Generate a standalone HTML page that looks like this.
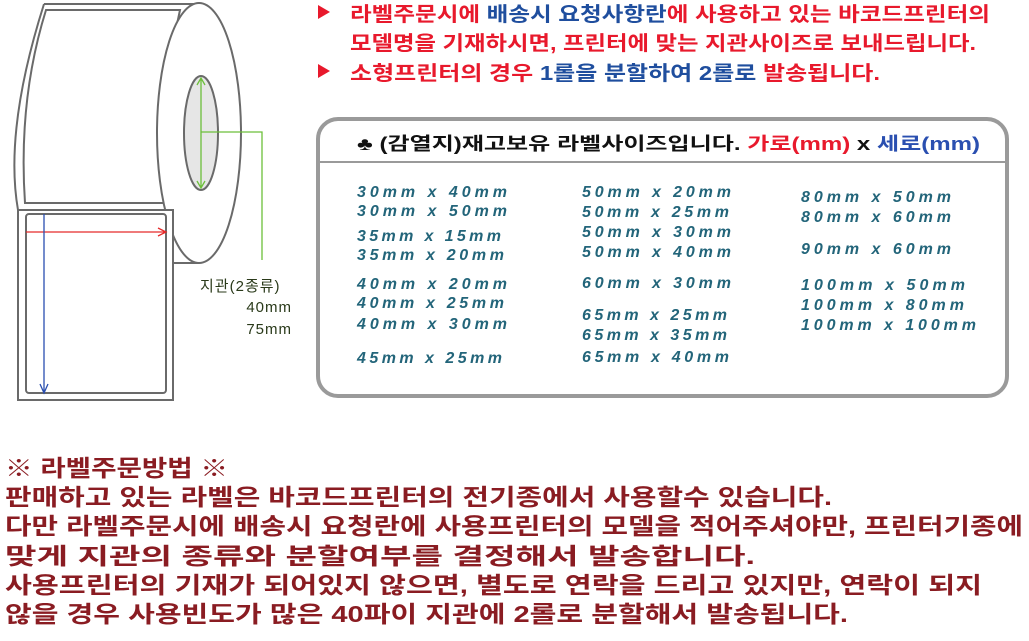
<!DOCTYPE html>
<html><head><meta charset="utf-8"><style>
html,body{margin:0;padding:0;background:#fff;width:1029px;height:641px;overflow:hidden}
svg{display:block}
.k{font-family:"Liberation Sans","Noto Sans CJK KR","NanumGothic",sans-serif;font-weight:bold}
.s{font-family:"Liberation Sans","Noto Sans CJK KR",sans-serif;font-weight:bold;font-size:16px;fill:#23657a;font-style:italic}
.g{font-family:"Liberation Sans","Noto Sans CJK KR",sans-serif;font-size:15px;fill:#2a3a1a}
</style></head><body>
<svg width="1029" height="641" viewBox="0 0 1029 641" xmlns="http://www.w3.org/2000/svg">
<g fill="none" stroke="#6a6a6a" stroke-width="2">
<path d="M44,4 L199,4 M44,4 Q4,130 18,210" />
<path d="M46,10 L180,10 Q160,100 164,203 L25,203 Q18,100 46,10 Z"/>
<ellipse cx="199" cy="133" rx="42" ry="130" fill="#fff"/>
<path d="M172,263 L199,263"/>
<rect x="18" y="210" width="155" height="190" fill="#fff"/>
<rect x="26" y="214" width="140" height="179" rx="3"/>
<ellipse cx="201" cy="133" rx="17" ry="57" fill="#e6e6e6"/>
</g>
<g stroke="#6cbf3a" stroke-width="1.3" fill="none">
<path d="M201,79 L201,187 M197,85 L201,78 L205,85 M197,181 L201,188 L205,181"/>
<path d="M201,132 L262,132 L262,260"/>
</g>
<path d="M26,232 L165,232 M158,228 L166,232 L158,236" stroke="#e52a2a" stroke-width="1.3" fill="none"/>
<path d="M44,214 L44,392 M40,384 L44,393 L48,384" stroke="#2a4fb0" stroke-width="1.3" fill="none"/>
<text class="g" x="200" y="291" letter-spacing="1">지관(2종류)</text>
<text class="g" x="292" y="312" text-anchor="end" letter-spacing="1">40mm</text>
<text class="g" x="292" y="334" text-anchor="end" letter-spacing="1">75mm</text>

<path d="M318,5 L330,12 L318,19 Z M318,64 L330,71 L318,78 Z" fill="#e8192c"/>
<text class="k" font-size="20" x="350" y="21" textLength="640" lengthAdjust="spacingAndGlyphs" fill="#e8192c">라벨주문시에 <tspan fill="#1f4e9e">배송시 요청사항란</tspan>에 사용하고 있는 바코드프린터의</text>
<text class="k" font-size="20" x="350" y="50" textLength="626" lengthAdjust="spacingAndGlyphs" fill="#e8192c">모델명을 기재하시면, 프린터에 맞는 지관사이즈로 보내드립니다.</text>
<text class="k" font-size="20" x="350" y="80" textLength="530" lengthAdjust="spacingAndGlyphs" fill="#e8192c">소형프린터의 경우  <tspan fill="#1f4e9e">1롤을 분할하여 2롤로</tspan> 발송됩니다.</text>

<rect x="318" y="119" width="689" height="277" rx="20" fill="#fff" stroke="#9a9a9a" stroke-width="4"/>
<line x1="318" y1="162" x2="1007" y2="162" stroke="#9a9a9a" stroke-width="2"/>
<text class="k" font-size="18" x="357" y="150" textLength="623" lengthAdjust="spacingAndGlyphs" fill="#111">♣ (감열지)재고보유 라벨사이즈입니다. <tspan fill="#e8192c">가로(mm)</tspan> x <tspan fill="#2a4fb0">세로(mm)</tspan></text>

<g class="s">
<text x="357" y="197" textLength="150">30mm x 40mm</text>
<text x="357" y="216" textLength="150">30mm x 50mm</text>
<text x="357" y="241" textLength="144">35mm x 15mm</text>
<text x="357" y="260" textLength="147">35mm x 20mm</text>
<text x="357" y="289" textLength="150">40mm x 20mm</text>
<text x="357" y="308" textLength="147">40mm x 25mm</text>
<text x="357" y="329" textLength="150">40mm x 30mm</text>
<text x="357" y="363" textLength="145">45mm x 25mm</text>

<text x="582" y="197" textLength="149">50mm x 20mm</text>
<text x="582" y="217" textLength="147">50mm x 25mm</text>
<text x="582" y="237" textLength="149">50mm x 30mm</text>
<text x="582" y="257" textLength="149">50mm x 40mm</text>
<text x="582" y="288" textLength="149">60mm x 30mm</text>
<text x="582" y="320" textLength="145">65mm x 25mm</text>
<text x="582" y="340" textLength="145">65mm x 35mm</text>
<text x="582" y="362" textLength="147">65mm x 40mm</text>

<text x="801" y="202" textLength="150">80mm x 50mm</text>
<text x="801" y="222" textLength="150">80mm x 60mm</text>
<text x="801" y="254" textLength="150">90mm x 60mm</text>
<text x="801" y="290" textLength="164">100mm x 50mm</text>
<text x="801" y="310" textLength="163">100mm x 80mm</text>
<text x="801" y="330" textLength="175">100mm x 100mm</text>
</g>

<g class="k" font-size="23" fill="#8a1c22">
<text x="5" y="476" textLength="223" lengthAdjust="spacingAndGlyphs">※ 라벨주문방법 ※</text>
<text x="5" y="505" textLength="827" lengthAdjust="spacingAndGlyphs">판매하고 있는 라벨은 바코드프린터의 전기종에서 사용할수 있습니다.</text>
<text x="5" y="534" textLength="1018" lengthAdjust="spacingAndGlyphs">다만 라벨주문시에 배송시 요청란에 사용프린터의 모델을 적어주셔야만, 프린터기종에</text>
<text x="5" y="564" textLength="750" lengthAdjust="spacingAndGlyphs">맞게 지관의 종류와 분할여부를 결정해서 발송합니다.</text>
<text x="5" y="593" textLength="977" lengthAdjust="spacingAndGlyphs">사용프린터의 기재가 되어있지 않으면, 별도로 연락을 드리고 있지만, 연락이 되지</text>
<text x="5" y="622" textLength="843" lengthAdjust="spacingAndGlyphs">않을 경우 사용빈도가 많은 40파이 지관에 2롤로 분할해서 발송됩니다.</text>
</g>
</svg>
</body></html>
